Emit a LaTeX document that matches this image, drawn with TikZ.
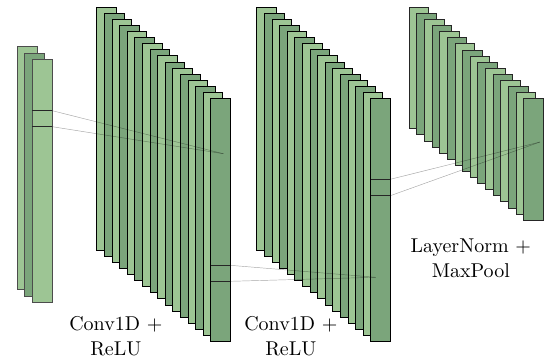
\documentclass[tikz,border=0pt]{standalone}
\usepackage{fontspec}
\setmainfont{lmroman10-regular.otf}
\usepackage{tikz}
\definecolor{lightg}{RGB}{157,197,148}
\definecolor{darkg}{RGB}{123,165,123}
\tikzset{
  slab/.style={line width=0.8pt, draw=black},
  slabgray/.style={line width=0.8pt, draw=black!70},
  patchline/.style={line width=0.8pt, draw=black!85},
  conn/.style={line width=0.45pt, draw=black, draw opacity=0.35},
  lbl/.style={font=\fontsize{20}{25}\selectfont, align=center, inner sep=0pt}
}
\begin{document}
\begin{tikzpicture}[x=1pt,y=-1pt]
\useasboundingbox (0,0) rectangle (552,360);
% input layer
\foreach \i in {0,1,2}{
  \pgfmathsetmacro{\xx}{17.3+7.5*\i}
  \pgfmathsetmacro{\yy}{46.7+6.3*\i}
  \pgfmathtruncatemacro{\pty}{mod(\i,2)}
  \ifnum\pty=0 \def\col{lightg}\else\def\col{darkg}\fi
  \path[slabgray, fill=\col] (\xx,\yy) rectangle ++(19.7,243);
}
\coordinate (inA) at (52.3,110.7);
\coordinate (inB) at (52.3,126.7);
\draw[patchline] (32.3,110.7) -- (inA);
\draw[patchline] (32.3,126.7) -- (inB);
% conv layers
\foreach \xo in {96.7,256.7}{
  \foreach \i in {0,...,15}{
    \pgfmathsetmacro{\xx}{\xo+7.6*\i}
    \pgfmathsetmacro{\yy}{7.3+6.07*\i}
    \pgfmathtruncatemacro{\pty}{mod(\i,2)}
    \ifnum\pty=0 \def\col{lightg}\else\def\col{darkg}\fi
    \path[slab, fill=\col] (\xx,\yy) rectangle ++(19.6,243);
  }
}
% layer 3
\foreach \i in {0,...,15}{
  \pgfmathsetmacro{\xx}{409+7.65*\i}
  \pgfmathsetmacro{\yy}{7.3+6.09*\i}
  \pgfmathtruncatemacro{\pty}{mod(\i,2)}
  \ifnum\pty=0 \def\col{lightg}\else\def\col{darkg}\fi
  \path[slab, draw=black!85, fill=\col] (\xx,\yy) rectangle ++(19.6,121.5);
}
% patches
\coordinate (c1A) at (230.3,265.3);
\coordinate (c1B) at (230.3,281.3);
\draw[patchline] (210.7,265.3) -- (c1A);
\draw[patchline] (210.7,281.3) -- (c1B);
\coordinate (c2A) at (390.3,179.3);
\coordinate (c2B) at (390.3,195.7);
\draw[patchline] (370.7,179.3) -- (c2A);
\draw[patchline] (370.7,195.7) -- (c2B);
% convergence points
\coordinate (p1) at (223.3,153.7);
\coordinate (p2) at (375.7,277.3);
\coordinate (p3) at (540,142);
\draw[conn] (inA) -- (p1);
\draw[conn] (inB) -- (p1);
\draw[conn] (c1A) -- (p2);
\draw[conn] (c1B) -- (p2);
\draw[conn] (c2A) -- (p3);
\draw[conn] (c2B) -- (p3);
% labels
\node[lbl] (l1) at (115.8,336.2) {Conv1D +\\ReLU};
\node[lbl] (l2) at (290.8,336.2) {Conv1D +\\ReLU};
\node[lbl] (l3) at (470.8,258) {LayerNorm +\\MaxPool};
\end{tikzpicture}
\end{document}
